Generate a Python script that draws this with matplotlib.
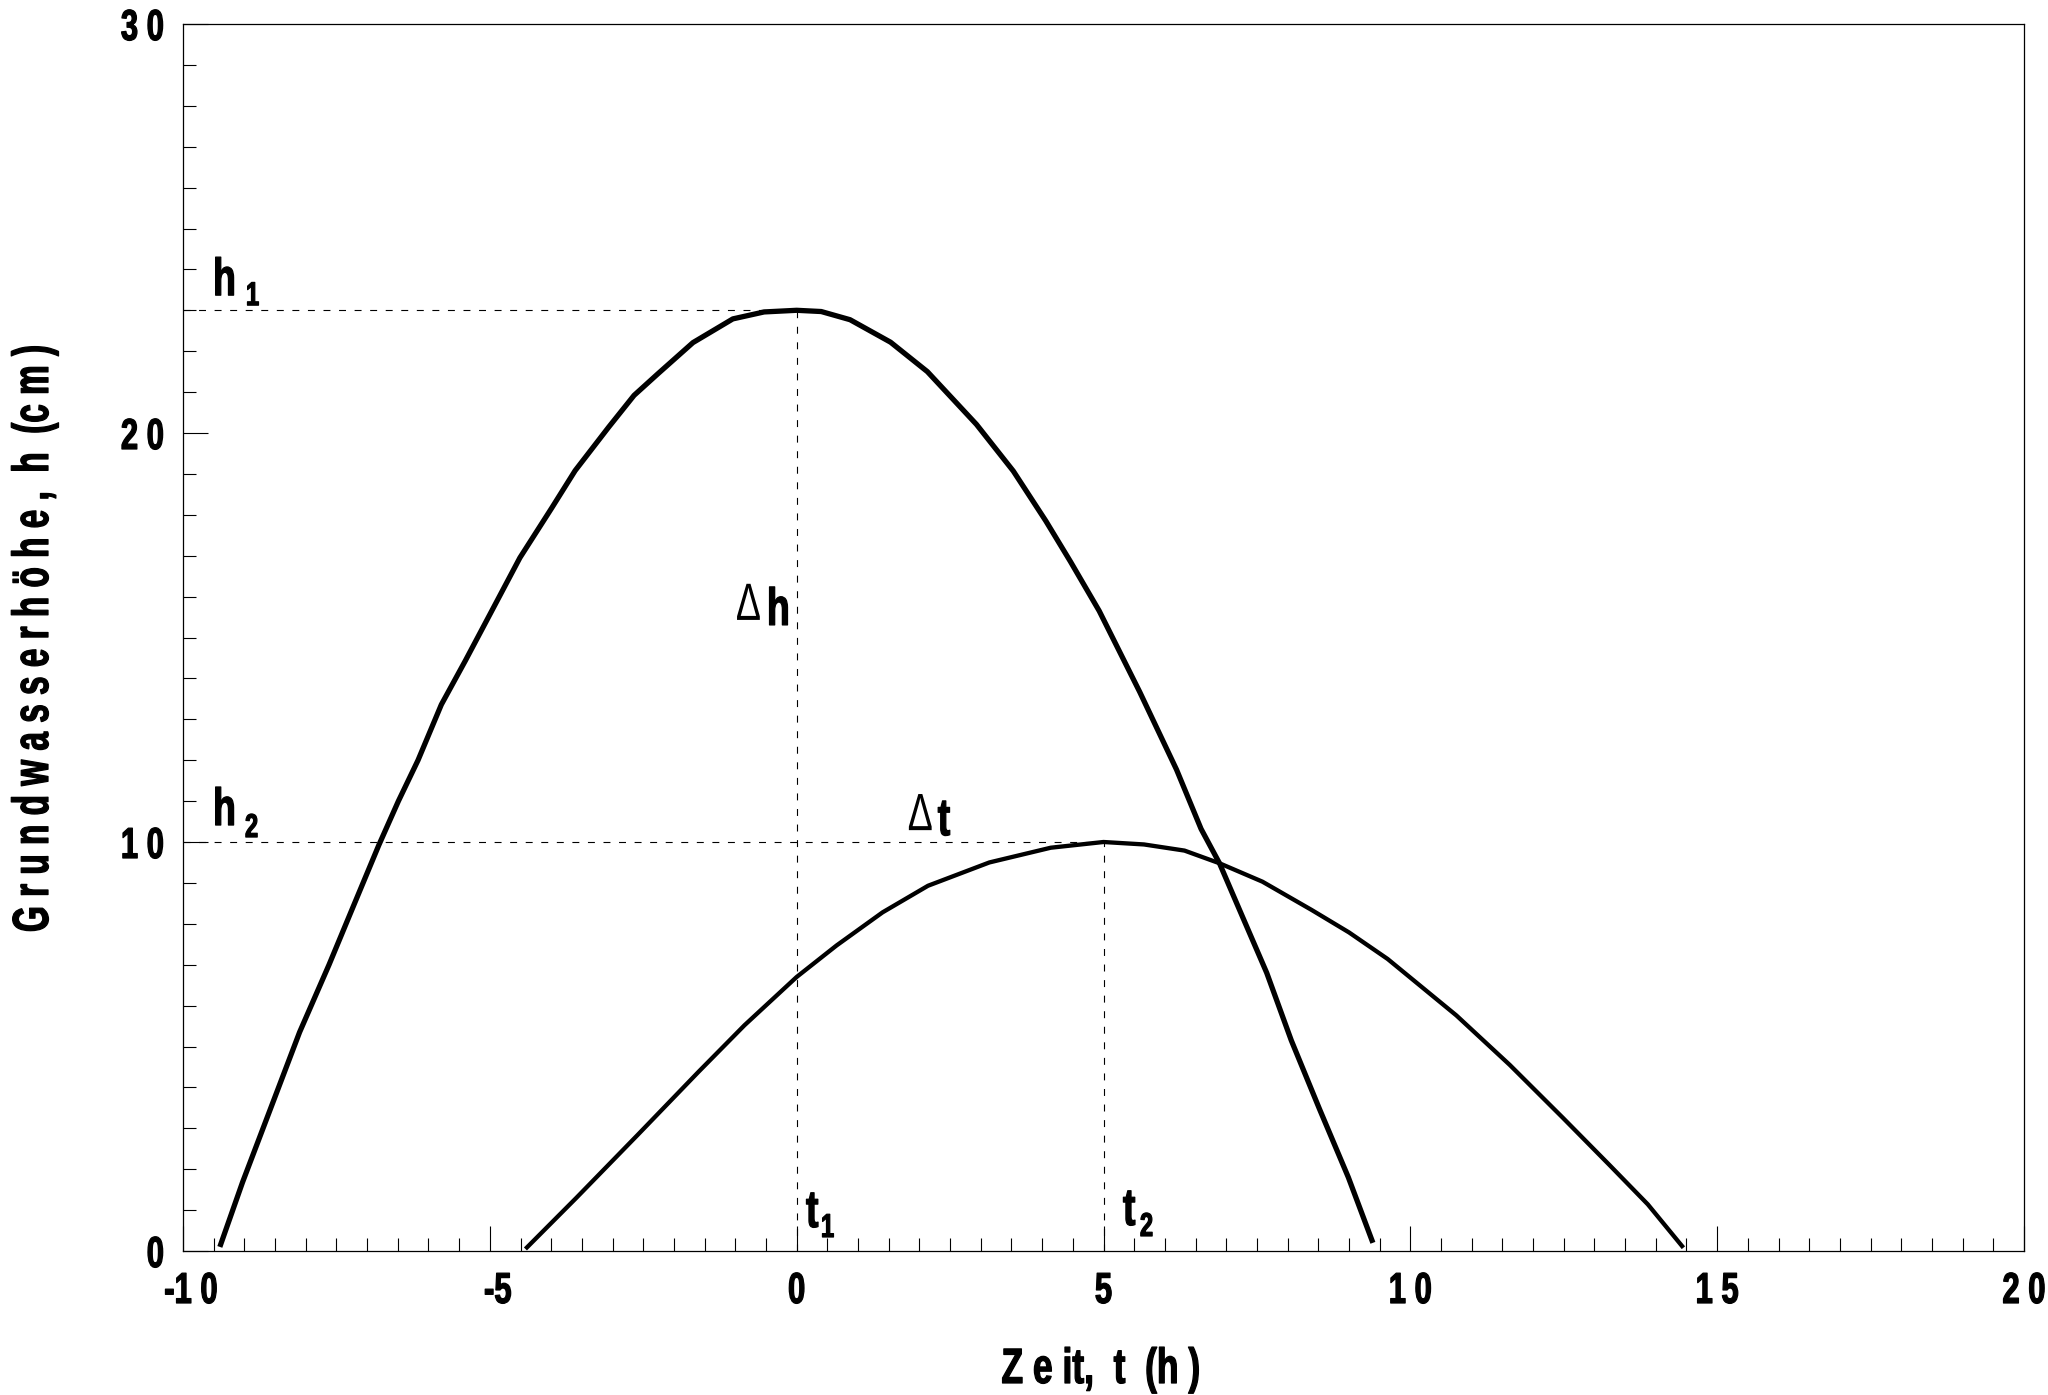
import matplotlib
matplotlib.use("Agg")
import matplotlib.pyplot as plt
from matplotlib import font_manager as fm
from matplotlib.patheffects import AbstractPathEffect
from matplotlib.transforms import Affine2D, ScaledTranslation, blended_transform_factory
from matplotlib.ticker import MultipleLocator

# ---------------- data ----------------
t_curve1 = [-9.40, -9.03, -8.48, -8.10, -7.62, -7.26, -6.81, -6.49, -6.17, -5.79, -5.40,
            -5.05, -4.51, -4.25, -3.99, -3.61, -3.06, -2.65, -2.26, -1.69, -1.04, -0.53,
            0.00, 0.40, 0.87, 1.53, 2.13, 2.93, 3.53, 4.06, 4.46, 4.93, 5.59, 6.19, 6.59,
            6.89, 7.26, 7.66, 8.06, 8.52, 8.99, 9.39]
h_curve1 = [0.10, 1.68, 3.85, 5.35, 7.00, 8.30, 9.92, 11.00, 12.00, 13.36, 14.43,
            15.42, 16.95, 17.56, 18.17, 19.08, 20.15, 20.92, 21.45, 22.21, 22.79, 22.96,
            23.00, 22.97, 22.77, 22.22, 21.50, 20.21, 19.07, 17.85, 16.86, 15.65, 13.67, 11.77, 10.32,
            9.48, 8.19, 6.80, 5.15, 3.47, 1.80, 0.20]

t_curve2 = [-4.42, -3.59, -2.59, -1.60, -0.85, 0.00, 0.65, 1.40, 2.14, 3.14, 4.14, 5.00,
            5.66, 6.32, 6.89, 7.59, 8.39, 9.00, 9.63, 10.75, 11.62, 12.49, 13.24, 13.87, 14.45]
h_curve2 = [0.05, 1.30, 2.84, 4.38, 5.52, 6.70, 7.47, 8.28, 8.93, 9.50, 9.86, 10.00,
            9.94, 9.79, 9.48, 9.03, 8.34, 7.79, 7.14, 5.76, 4.55, 3.25, 2.11, 1.14, 0.08]

h1, h2 = 23.0, 10.0
t1, t2 = 0.0, 5.0

x_major = [-10, -5, 0, 5, 10, 15, 20]
x_labels = ["-1 0", "-5", "0", "5", "1 0", "1 5", "2 0"]
y_major = [0, 10, 20, 30]
y_labels = ["0", "1 0", "2 0", "3 0"]

xlabel_text = "Z e it,  t  (h )"
ylabel_text = "G r u n d w a s s e r h ö h e ,  h  (c m )"

# ---------------- fonts ----------------
names = {f.name for f in fm.fontManager.ttflist}
FAM = "Liberation Sans Narrow" if "Liberation Sans Narrow" in names else "Liberation Sans"
REG = "Liberation Sans"
STRETCH = 1.4


class VStretch(AbstractPathEffect):
    """Stretch glyphs perpendicular to their baseline and embolden them slightly."""
    def __init__(self, s, lw=0.0):
        super().__init__()
        self.s = s
        self.lw = lw

    def draw_path(self, renderer, gc, tpath, affine, rgbFace=None):
        gc0 = renderer.new_gc()
        gc0.copy_properties(gc)
        if self.lw > 0:
            gc0.set_linewidth(self.lw)
            gc0.set_foreground(rgbFace if rgbFace is not None else gc.get_rgb())
            gc0.set_joinstyle("round")
        renderer.draw_path(gc0, tpath, Affine2D().scale(1, self.s) + affine, rgbFace)
        gc0.restore()


PE = [VStretch(STRETCH, 0.9)]
PE_Y = [VStretch(1.52, 0.9)]
PE_THIN = [VStretch(STRETCH, 0.0)]

plt.rcParams["lines.scale_dashes"] = False

W, H = 2048, 1395
fig = plt.figure(figsize=(W / 100, H / 100), dpi=100)
L, R, T, B = 183, 2024, 24, 1251
ax = fig.add_axes([L / W, 1 - B / H, (R - L) / W, (B - T) / H])


def off(dx, dy):
    # pixel offset (dy positive = downward)
    return ScaledTranslation(dx / 100, -dy / 100, fig.dpi_scale_trans)


# curves
ax.plot(t_curve1, h_curve1, color="black", lw=3.8, solid_joinstyle="round", solid_capstyle="butt")
ax.plot(t_curve2, h_curve2, color="black", lw=3.1, solid_joinstyle="round", solid_capstyle="butt")

# dashed helper lines
dash = (0, (5.0, 6.2))
ax.plot([-10, t1], [h1, h1], color="black", lw=0.8, linestyle=dash)
ax.plot([t1, t1], [0, h1], color="black", lw=0.8, linestyle=dash)
ax.plot([-10, t2], [h2, h2], color="black", lw=0.8, linestyle=dash)
ax.plot([t2, t2], [0, h2], color="black", lw=0.8, linestyle=dash)

ax.set_xlim(-10, 20)
ax.set_ylim(0, 30)

for s in ax.spines.values():
    s.set_linewidth(0.9)
    s.set_color("black")

ax.xaxis.set_major_locator(MultipleLocator(5))
ax.xaxis.set_minor_locator(MultipleLocator(0.5))
ax.yaxis.set_major_locator(MultipleLocator(10))
ax.yaxis.set_minor_locator(MultipleLocator(1))
ax.tick_params(which="both", direction="in", top=False, right=False,
               labelbottom=False, labelleft=False, width=0.8, color="black")
ax.tick_params(which="major", length=18)
ax.tick_params(which="minor", length=9.2)

# tick labels (drawn as text at tick positions)
ytr = blended_transform_factory(ax.transAxes, ax.transData)
for v, lab in zip(y_major, y_labels):
    ax.text(0, v, lab, transform=ytr + off(-19, 16), ha="right", va="baseline",
            family=[FAM, "DejaVu Sans"], weight="bold", fontsize=22.3,
            path_effects=PE, clip_on=False)

xtr = blended_transform_factory(ax.transData, ax.transAxes)
for v, lab in zip(x_major, x_labels):
    dx = 8 if lab.startswith("-") else 0
    ax.text(v, 0, lab, transform=xtr + off(dx, 52), ha="center", va="baseline",
            family=[FAM, "DejaVu Sans"], weight="bold", fontsize=22.3,
            path_effects=PE, clip_on=False)

# axis labels
ax.text(0.4986, 0, xlabel_text, transform=ax.transAxes + off(0, 132), ha="center",
        va="baseline", family=[FAM, "DejaVu Sans"], weight="bold", fontsize=25.5,
        path_effects=PE, clip_on=False)
fig.text(48 / W, 1 - 638 / H, ylabel_text, rotation=90, rotation_mode="anchor",
         ha="center", va="baseline", family=[FAM, "DejaVu Sans"], weight="bold",
         fontsize=24, path_effects=PE_Y)


def label(x, y, main, sub, sdx, sdy, main_reg=False, main_size=27):
    if main_reg:
        ax.text(x, y, main, ha="left", va="baseline", family=[REG, "DejaVu Sans"],
                weight="normal", fontsize=27, path_effects=PE_THIN)
    else:
        ax.text(x, y, main, ha="left", va="baseline", family=[FAM, "DejaVu Sans"],
                weight="bold", fontsize=main_size, path_effects=PE)
    if sub:
        ax.text(x, y, sub[0], transform=ax.transData + off(sdx, sdy), ha="left",
                va="baseline", family=[FAM, "DejaVu Sans"], weight="bold",
                fontsize=sub[1], path_effects=PE)


# h1, h2 labels
label(-9.511, 23.37, "h", ("1", 17), 33, 10)
label(-9.511, 10.415, "h", ("2", 17), 32, 12)
# Delta h, Delta t
label(-0.990, 15.43, "Δ", ("h", 27), 31, 5, main_reg=True)
label(1.810, 10.29, "Δ", ("t", 27), 30, 5, main_reg=True)
# t1, t2
label(0.152, 0.587, "t", ("1", 17), 15, 10)
label(5.317, 0.636, "t", ("2", 17), 17, 11)

fig.savefig("out.png", dpi=100, facecolor="white")
